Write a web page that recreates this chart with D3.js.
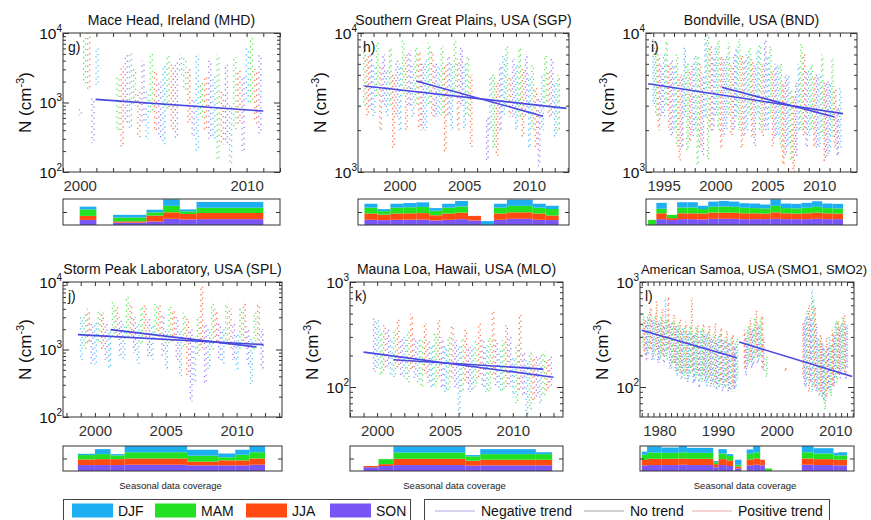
<!DOCTYPE html>
<html>
<head>
<meta charset="utf-8">
<script src="https://cdn.jsdelivr.net/npm/d3@7"></script>
<style>
body { margin: 0; background: #fff; }
svg { display: block; font-family: "Liberation Sans", Arial, Helvetica, sans-serif; }
</style>
</head>
<body>
<svg id="chart" width="871" height="520"></svg>
<script>
// seasons, drawn bottom-up in coverage bars as SON, JJA, MAM, DJF
const seasons = ["DJF", "MAM", "JJA", "SON"];
const seasonColors = ["#1eaef2", "#22e022", "#ff4b12", "#7a55f5"];
const seasonStart = [-1 / 12, 2 / 12, 5 / 12, 8 / 12];
const trendColor = "#4848e0";

// N (cm-3) ranges per year: [year, DJF lo, hi, MAM lo, hi, JJA lo, hi, SON lo, hi]
const nMHD = [
  [2000, 650, 800, 1800, 9000, 1500, 10000, 260, 1200],
  [2001, 1800, 6000, 0, 0, 0, 0, 0, 0],
  [2002, 0, 0, 400, 2500, 220, 3300, 500, 5000],
  [2003, 400, 5500, 900, 3000, 300, 1500, 500, 4000],
  [2004, 300, 1500, 700, 5000, 400, 3000, 300, 2000],
  [2005, 250, 3500, 800, 5000, 400, 3500, 300, 4000],
  [2006, 2500, 5000, 1500, 4500, 500, 3000, 300, 1200],
  [2007, 200, 5000, 600, 2000, 400, 2500, 300, 4000],
  [2008, 300, 2500, 150, 5000, 250, 1500, 250, 3500],
  [2009, 130, 1000, 400, 4500, 500, 3000, 200, 2500],
  [2010, 1000, 6000, 1000, 9000, 500, 3000, 350, 5000]
];
const nSGP = [
  [1997, 0, 0, 3000, 8000, 2500, 7000, 2800, 7500],
  [1998, 2500, 6000, 3500, 8500, 2000, 6000, 3000, 7000],
  [1999, 2500, 5500, 3000, 8000, 1500, 5000, 2500, 6500],
  [2000, 2000, 6000, 3500, 9000, 2000, 7000, 3000, 7500],
  [2001, 2500, 6000, 3000, 8000, 2000, 7500, 2000, 6000],
  [2002, 2000, 6500, 3000, 8500, 2500, 7500, 2500, 6000],
  [2003, 2500, 6000, 2500, 8000, 1400, 6000, 2500, 7000],
  [2004, 2000, 6000, 3500, 9000, 2000, 6500, 3000, 8000],
  [2005, 2000, 6000, 2500, 7000, 1500, 5000, 0, 0],
  [2006, 0, 0, 0, 0, 0, 0, 1200, 2500],
  [2007, 2000, 5000, 1500, 5000, 1300, 4500, 2000, 6000],
  [2008, 2500, 7000, 3000, 8000, 2500, 5000, 2500, 6500],
  [2009, 2000, 6000, 2500, 8000, 1800, 5500, 2500, 7000],
  [2010, 1500, 5000, 2000, 6000, 1500, 4000, 1100, 3500],
  [2011, 2000, 5000, 3000, 7000, 2500, 5500, 2500, 6500],
  [2012, 1800, 4500, 2000, 5000, 0, 0, 0, 0]
];
const nBND = [
  [1994, 3000, 9000, 2500, 8000, 2000, 7000, 2500, 6000],
  [1995, 2500, 7000, 3000, 9000, 2000, 6000, 1800, 6500],
  [1996, 2000, 6000, 1500, 7000, 1200, 5000, 1500, 5000],
  [1997, 2500, 8000, 1400, 6000, 1600, 5500, 1800, 6000],
  [1998, 2000, 7000, 1100, 7000, 1500, 6000, 1300, 5000],
  [1999, 2500, 9000, 1200, 10000, 2000, 8000, 2000, 7000],
  [2000, 2500, 8000, 2000, 9000, 1500, 7000, 1800, 6500],
  [2001, 2000, 7000, 2500, 8500, 1800, 6000, 2000, 7000],
  [2002, 2500, 8000, 2000, 9000, 1500, 7000, 1800, 6500],
  [2003, 2000, 7000, 2500, 8000, 1800, 6500, 1500, 6000],
  [2004, 2500, 7500, 2000, 8500, 1800, 6000, 2000, 9000],
  [2005, 2000, 7000, 2500, 8000, 1500, 5500, 1800, 6000],
  [2006, 1800, 6000, 1500, 6000, 1100, 4500, 1300, 5000],
  [2007, 1500, 5000, 1200, 4000, 1000, 3500, 1300, 4500],
  [2008, 2000, 6000, 2000, 8500, 1800, 7000, 1500, 5500],
  [2009, 1800, 5500, 2000, 6000, 1500, 5000, 1500, 5000],
  [2010, 1500, 5000, 1800, 7000, 1200, 4500, 1300, 4500],
  [2011, 1400, 4500, 1800, 6500, 1500, 4000, 1300, 3000],
  [2012, 1500, 4000, 0, 0, 0, 0, 0, 0]
];
const nSPL = [
  [1999, 700, 3000, 1000, 3500, 1200, 4000, 600, 2500],
  [2000, 600, 2500, 1200, 4000, 1000, 3500, 700, 2500],
  [2001, 500, 2000, 1500, 5000, 1500, 4500, 800, 3000],
  [2002, 700, 2500, 1500, 6000, 1500, 5000, 900, 3000],
  [2003, 600, 2500, 1200, 4500, 1500, 4500, 800, 3000],
  [2004, 700, 2500, 1500, 5000, 1500, 4500, 800, 3500],
  [2005, 500, 2000, 1200, 4500, 1200, 4000, 700, 3000],
  [2006, 400, 2000, 1000, 3500, 400, 3000, 170, 2000],
  [2007, 300, 1500, 800, 3000, 1000, 9000, 300, 2500],
  [2008, 500, 2000, 1000, 5000, 1200, 4000, 700, 2500],
  [2009, 600, 2000, 1200, 5000, 1000, 4000, 700, 2500],
  [2010, 500, 1800, 1000, 4000, 1200, 5000, 600, 2200],
  [2011, 300, 1500, 1000, 3500, 1200, 5000, 500, 2000]
];
const nMLO = [
  [1999, 0, 0, 0, 0, 0, 0, 140, 450],
  [2000, 150, 450, 130, 350, 140, 400, 150, 350],
  [2001, 130, 300, 120, 350, 150, 450, 130, 300],
  [2002, 120, 300, 110, 350, 140, 500, 120, 300],
  [2003, 110, 280, 100, 300, 130, 400, 110, 280],
  [2004, 100, 260, 100, 320, 120, 450, 100, 300],
  [2005, 90, 250, 90, 300, 120, 400, 100, 280],
  [2006, 55, 250, 90, 300, 110, 350, 90, 250],
  [2007, 90, 250, 100, 280, 120, 400, 100, 300],
  [2008, 90, 250, 90, 300, 120, 550, 100, 280],
  [2009, 90, 230, 90, 280, 100, 400, 100, 300],
  [2010, 80, 200, 70, 250, 90, 500, 80, 220],
  [2011, 55, 180, 60, 220, 70, 200, 80, 200],
  [2012, 70, 200, 80, 220, 90, 180, 100, 200]
];
const nSMO = [
  [1977, 0, 0, 220, 500, 200, 450, 180, 420],
  [1978, 200, 480, 230, 520, 220, 600, 180, 450],
  [1979, 180, 450, 200, 500, 220, 650, 170, 420],
  [1980, 170, 430, 190, 480, 200, 550, 160, 400],
  [1981, 200, 700, 180, 450, 220, 750, 150, 400],
  [1982, 150, 420, 160, 450, 170, 500, 140, 380],
  [1983, 120, 380, 140, 400, 130, 450, 120, 350],
  [1984, 130, 360, 120, 380, 140, 420, 110, 330],
  [1985, 120, 340, 130, 400, 140, 700, 110, 320],
  [1986, 110, 330, 120, 370, 130, 400, 100, 300],
  [1987, 120, 350, 110, 360, 130, 420, 110, 320],
  [1988, 100, 320, 110, 350, 120, 380, 100, 300],
  [1989, 110, 300, 100, 330, 110, 400, 95, 280],
  [1990, 100, 300, 100, 330, 110, 380, 90, 280],
  [1991, 100, 290, 95, 300, 110, 350, 90, 260],
  [1992, 95, 280, 90, 300, 100, 320, 90, 250],
  [1993, 100, 260, 120, 300, 0, 0, 0, 0],
  [1994, 0, 0, 0, 0, 150, 350, 130, 300],
  [1995, 150, 350, 170, 400, 180, 450, 150, 350],
  [1996, 160, 380, 180, 450, 200, 550, 170, 400],
  [1997, 180, 400, 200, 450, 150, 500, 140, 300],
  [1998, 0, 0, 120, 200, 0, 0, 0, 0],
  [2001, 0, 0, 0, 0, 140, 160, 0, 0],
  [2004, 0, 0, 0, 0, 120, 400, 100, 450],
  [2005, 100, 500, 120, 550, 90, 600, 110, 480],
  [2006, 90, 830, 100, 700, 100, 600, 90, 400],
  [2007, 90, 300, 80, 280, 90, 320, 80, 260],
  [2008, 70, 250, 60, 220, 80, 300, 90, 250],
  [2009, 90, 300, 80, 260, 100, 350, 100, 320],
  [2010, 120, 400, 110, 450, 130, 420, 120, 380],
  [2011, 130, 420, 150, 460, 140, 500, 120, 400],
  [2012, 150, 400, 0, 0, 0, 0, 0, 0]
];

// trend lines: [t0, N0, t1, N1]
const trMHD = [[2000.95, 1110, 2011.0, 755]];
const trSGP = [[1997.3, 4160, 2012.9, 2870], [2001.3, 4520, 2011.1, 2520]];
const trBND = [[1993.5, 4310, 2012.3, 2630], [2000.6, 4075, 2011.5, 2485]];
const trSPL = [[1998.8, 1660, 2011.9, 1180], [2001.1, 1970, 2011.4, 1090]];
const trMLO = [[1999.0, 215, 2013.0, 124], [2001.2, 182, 2012.25, 148]];
const trSMO = [[1977.0, 347, 1993.2, 190], [1993.6, 268, 2012.9, 126]];

// seasonal coverage: [t0, t1, DJF, MAM, JJA, SON] (fraction of season)
const covMHD = [
  [2000, 2001, .42, 1, .62, .78],
  [2002, 2004, .4, .6, .2, .36],
  [2004, 2005, .4, .5, .9, .55],
  [2005, 2006, 1, 1, 1, .95],
  [2006, 2007, .3, .4, .85, .85],
  [2007, 2011, .9, .8, .95, .9]
];
const covSGP = [
  [1997.3, 1998.3, .6, .9, .97, .8],
  [1998.3, 1999.3, .3, .55, .85, .74],
  [1999.3, 2000.3, .6, .9, .97, .8],
  [2000.3, 2001.3, .65, .93, .97, .83],
  [2001.3, 2002.3, .7, .95, 1, .83],
  [2002.3, 2003.3, .4, .7, .8, .7],
  [2003.3, 2004.3, .6, .9, .97, .8],
  [2004.3, 2005.3, .85, .95, 1, .9],
  [2005.3, 2006.3, 0, 0, .7, .7],
  [2006.3, 2007.3, .6, 0, 0, 0],
  [2007.3, 2008.3, .6, .9, .97, .8],
  [2008.3, 2010.3, .95, 1, 1, .95],
  [2010.3, 2011.3, .6, .9, .97, .8],
  [2011.3, 2012.3, .5, 1, .7, .76]
];
const covBND = [
  [1993.5, 1994.3, 0, .78, 0, 0],
  [1994.3, 1995.3, .9, .7, .9, .9],
  [1995.3, 1996.3, 0, .5, .3, .76],
  [1996.3, 1997.3, .8, .9, .9, .9],
  [1997.3, 1998.3, .8, .9, .9, .9],
  [1998.3, 1999.3, .5, .7, .9, .86],
  [1999.3, 2000.3, .8, .9, .95, .95],
  [2000.3, 2001.3, .85, .95, .95, .95],
  [2001.3, 2002.3, .8, .9, .95, .95],
  [2002.3, 2003.3, .7, .85, .9, .9],
  [2003.3, 2004.3, .7, .8, .9, .9],
  [2004.3, 2005.3, .6, .8, .85, .9],
  [2005.3, 2006.3, 1, 1, 1, .95],
  [2006.3, 2007.3, .7, .8, .9, .9],
  [2007.3, 2008.3, .7, .8, .85, .9],
  [2008.3, 2009.3, .75, .85, .9, .9],
  [2009.3, 2010.3, .85, .9, .95, .95],
  [2010.3, 2011.3, .7, .8, .9, .9],
  [2011.3, 2012.3, .7, .8, .85, .9]
];
const covSPL = [
  [1998.8, 2000.0, .2, .7, .9, .95],
  [2000.0, 2001.1, .8, .8, .95, .95],
  [2001.1, 2002.1, .2, .6, .95, .95],
  [2002.1, 2006.5, 1, 1, 1, 1],
  [2006.5, 2008.7, .95, .95, .6, .9],
  [2008.7, 2009.9, .6, .5, .8, .9],
  [2009.9, 2010.9, .8, .9, .8, .9],
  [2010.9, 2012.0, 1, 1, 1, 1]
];
const covMLO = [
  [1999.0, 2000.1, 0, 0, .2, .6],
  [2000.1, 2001.2, 0, .8, .3, .8],
  [2001.2, 2006.5, 1, 1, 1, .95],
  [2006.5, 2007.6, .2, .7, .8, .85],
  [2007.6, 2011.7, .8, .9, .9, .9],
  [2011.7, 2012.9, .3, .9, .9, .9]
];
const covSMO = [
  [1977.0, 1977.9, .5, .8, .9, .9],
  [1977.9, 1980.4, 1, 1, 1, .95],
  [1980.4, 1983.3, .85, .95, 1, .95],
  [1983.3, 1984.7, 1, 1, 1, 1],
  [1984.7, 1989.2, .8, .95, 1, .95],
  [1989.2, 1990.1, .2, .3, .5, .6],
  [1990.1, 1991.5, .7, .9, .95, .95],
  [1991.5, 1992.6, .3, .7, .9, .8],
  [1992.9, 1994.0, .8, .3, .3, .4],
  [1994.9, 1996.0, .7, .9, .95, .9],
  [1996.0, 1997.2, 1, 1, 1, 1],
  [1997.2, 1998.0, 0, 0, .9, .9],
  [1998.0, 1999.2, 0, .4, 0, 0],
  [2004.3, 2006.3, 1, 1, 1, 1],
  [2006.3, 2009.7, .85, .9, .95, .95],
  [2009.7, 2010.5, .4, .7, .9, .9],
  [2010.5, 2012.0, .5, .7, .9, .9]
];

const titles = ["Mace Head, Ireland (MHD)", "Southern Great Plains, USA (SGP)", "Bondville, USA (BND)",
  "Storm Peak Laboratory, USA (SPL)", "Mauna Loa, Hawaii, USA (MLO)", "American Samoa, USA (SMO1, SMO2)"];
const letters = ["g)", "h)", "i)", "j)", "k)", "l)"];
const xDomains = [[1999, 2012], [1996.8, 2013.1], [1993.3, 2013.65], [1997.75, 2013.2], [1998.0, 2013.7], [1976.7, 2013.2]];
const yDomains = [[100, 1e4], [1e3, 1e4], [1e3, 1e4], [100, 1e4], [51.8, 1e3], [51.8, 1e3]];
const yLabelExps = [[2, 3, 4], [3, 4], [3, 4], [2, 3, 4], [2, 3], [2, 3]];
const xLabelYears = [[2000, 2010], [2000, 2005, 2010], [1995, 2000, 2005, 2010], [2000, 2005, 2010], [2000, 2005, 2010], [1980, 1990, 2000, 2010]];
const allRows = [nMHD, nSGP, nBND, nSPL, nMLO, nSMO];
const allTrends = [trMHD, trSGP, trBND, trSPL, trMLO, trSMO];
const allCov = [covMHD, covSGP, covBND, covSPL, covMLO, covSMO];

const trendLabels = ["Negative trend", "No trend", "Positive trend"];
const trendLegendColors = ["#a9a9e4", "#a3a3a3", "#f0a6a6"];

// layout
const colX = [[[63, 280], [358, 569], [646, 857]], [[63, 282], [350, 563], [640, 854]]];
const rowY = [
  { top: 33, bottom: 172, covTop: 199, covBottom: 225 },
  { top: 282, bottom: 417, covTop: 446, covBottom: 471 }
];
const titleShift = [0, 0, 0, 0, 0, 7];
const titleSize = [14, 14, 14, 14, 14, 13];
const monthPos = [0.8, 2.2];
const dashOffsets = [0, 2.6, 1.1, 3.7, 0.6, 2.0, 4.1, 1.6, 3.1];

const svg = d3.select("#chart");
const axisColor = "#333";

function drawPanel(i) {
  const r = Math.floor(i / 3), c = i % 3;
  const [left, right] = colX[r][c];
  const { top, bottom, covTop, covBottom } = rowY[r];
  const g = svg.append("g");

  const x = d3.scaleLinear().domain(xDomains[i]).range([left, right]);
  const y = d3.scaleLog().domain(yDomains[i]).range([bottom, top]);

  svg.append("clipPath").attr("id", "clip" + i).append("rect")
    .attr("x", left).attr("y", top).attr("width", right - left).attr("height", bottom - top);
  const pts = g.append("g").attr("clip-path", `url(#clip${i})`);

  // seasonal streaks of daily values
  let n = 0;
  allRows[i].forEach(row => {
    seasons.forEach((s, k) => {
      const lo = row[1 + 2 * k], hi = row[2 + 2 * k];
      if (!lo) return;
      const t0 = row[0] + seasonStart[k];
      monthPos.forEach(mp => {
        const xm = x(t0 + mp / 12);
        pts.append("line")
          .attr("x1", xm).attr("x2", xm)
          .attr("y1", y(hi)).attr("y2", y(lo))
          .attr("stroke", seasonColors[k])
          .attr("stroke-width", 1.3)
          .attr("stroke-opacity", 0.75)
          .attr("stroke-dasharray", "1.3 4.2")
          .attr("stroke-dashoffset", dashOffsets[n++ % dashOffsets.length]);
      });
    });
  });

  allTrends[i].forEach(t => {
    pts.append("line")
      .attr("x1", x(t[0])).attr("y1", y(t[1]))
      .attr("x2", x(t[2])).attr("y2", y(t[3]))
      .attr("stroke", trendColor).attr("stroke-width", 1.6);
  });

  // frame and axes
  g.append("rect").attr("x", left).attr("y", top).attr("width", right - left).attr("height", bottom - top)
    .attr("fill", "none").attr("stroke", axisColor).attr("stroke-width", 1);

  const years = d3.range(Math.ceil(xDomains[i][0]), Math.floor(xDomains[i][1]) + 1);
  g.append("g").attr("transform", `translate(0,${bottom})`)
    .call(d3.axisBottom(x).tickValues(years).tickSizeInner(-4).tickSizeOuter(0).tickPadding(8)
      .tickFormat(d => xLabelYears[i].includes(d) ? d : ""))
    .call(a => a.select(".domain").remove())
    .attr("font-size", 15).attr("font-family", null).attr("color", axisColor);
  g.append("g").attr("transform", `translate(0,${top})`)
    .call(d3.axisTop(x).tickValues(years).tickSizeInner(-4).tickSizeOuter(0).tickFormat(""))
    .call(a => a.select(".domain").remove())
    .attr("color", axisColor);

  const [y0, y1] = yDomains[i];
  const majors = [], minors = [];
  for (let e = Math.floor(Math.log10(y0)); e <= Math.ceil(Math.log10(y1)); e++) {
    for (let k = 1; k <= 9; k++) {
      const v = k * Math.pow(10, e);
      if (v < y0 * 0.999 || v > y1 * 1.001) continue;
      (k === 1 ? majors : minors).push(v);
    }
  }
  [[d3.axisLeft, left], [d3.axisRight, right]].forEach(([ax, pos]) => {
    g.append("g").attr("transform", `translate(${pos},0)`)
      .call(ax(y).tickValues(majors).tickSizeInner(-6).tickSizeOuter(0).tickFormat(""))
      .call(a => a.select(".domain").remove()).attr("color", axisColor);
    g.append("g").attr("transform", `translate(${pos},0)`)
      .call(ax(y).tickValues(minors).tickSizeInner(-3).tickSizeOuter(0).tickFormat(""))
      .call(a => a.select(".domain").remove()).attr("color", axisColor);
  });

  yLabelExps[i].forEach(e => {
    const t = g.append("text")
      .attr("x", left - 1).attr("y", y(Math.pow(10, e)) + 5.5)
      .attr("text-anchor", "end").attr("font-size", 15.5).attr("fill", "#111");
    t.append("tspan").text("10");
    t.append("tspan").attr("dy", -7).attr("font-size", 10).text(e);
  });

  const yl = g.append("text")
    .attr("transform", `translate(${left - 32},${(top + bottom) / 2}) rotate(-90)`)
    .attr("text-anchor", "middle").attr("font-size", 17).attr("fill", "#111");
  yl.append("tspan").text("N (cm");
  yl.append("tspan").attr("dy", -7).attr("font-size", 11).text("-3");
  yl.append("tspan").attr("dy", 7).text(")");

  g.append("text").attr("x", (left + right) / 2 + titleShift[i]).attr("y", top - 8)
    .attr("text-anchor", "middle").attr("font-size", titleSize[i]).attr("fill", "#111").text(titles[i]);
  g.append("text").attr("x", left + 5).attr("y", top + 19)
    .attr("font-size", 14).attr("fill", "#111").text(letters[i]);

  // seasonal data coverage strip
  const yc = d3.scaleLinear().domain([0, 4]).range([covBottom, covTop]);
  allCov[i].forEach(cv => {
    let base = 0;
    [3, 2, 1, 0].forEach(k => {
      const h = cv[2 + k];
      if (h > 0) {
        g.append("rect")
          .attr("x", x(cv[0])).attr("width", x(cv[1]) - x(cv[0]))
          .attr("y", yc(base + h)).attr("height", yc(base) - yc(base + h))
          .attr("fill", seasonColors[k]);
      }
      base += h;
    });
  });
  g.append("rect").attr("x", left).attr("y", covTop).attr("width", right - left).attr("height", covBottom - covTop)
    .attr("fill", "none").attr("stroke", axisColor).attr("stroke-width", 1);
  [[d3.axisLeft, left], [d3.axisRight, right]].forEach(([ax, pos]) => {
    g.append("g").attr("transform", `translate(${pos},0)`)
      .call(ax(yc).tickValues([2]).tickSizeInner(-4).tickSizeOuter(0).tickFormat(""))
      .call(a => a.select(".domain").remove()).attr("color", axisColor);
  });

  if (r === 1) {
    g.append("text").attr("x", (left + right) / 2 - 2).attr("y", covBottom + 18)
      .attr("text-anchor", "middle").attr("font-size", 9.5).attr("fill", "#222")
      .text("Seasonal data coverage");
  }
}

d3.range(6).forEach(drawPanel);

// legends
const lg = svg.append("g");
lg.append("rect").attr("x", 63.5).attr("y", 499.5).attr("width", 347).attr("height", 40)
  .attr("fill", "none").attr("stroke", "#444");
const swatchX = [72, 155, 246, 330];
seasons.forEach((s, k) => {
  lg.append("rect").attr("x", swatchX[k]).attr("y", 503.5).attr("width", 41).attr("height", 14)
    .attr("fill", seasonColors[k]);
  lg.append("text").attr("x", swatchX[k] + 46).attr("y", 516).attr("font-size", 14)
    .attr("fill", "#111").text(s);
});
lg.append("rect").attr("x", 424.5).attr("y", 499.5).attr("width", 405).attr("height", 40)
  .attr("fill", "none").attr("stroke", "#444");
const trendX = [435, 584, 692];
trendLabels.forEach((s, k) => {
  lg.append("line").attr("x1", trendX[k]).attr("x2", trendX[k] + 40).attr("y1", 511).attr("y2", 511)
    .attr("stroke", trendLegendColors[k]).attr("stroke-width", 1.2);
  lg.append("text").attr("x", trendX[k] + 46).attr("y", 516).attr("font-size", 14)
    .attr("fill", "#111").text(s);
});
</script>
</body>
</html>
